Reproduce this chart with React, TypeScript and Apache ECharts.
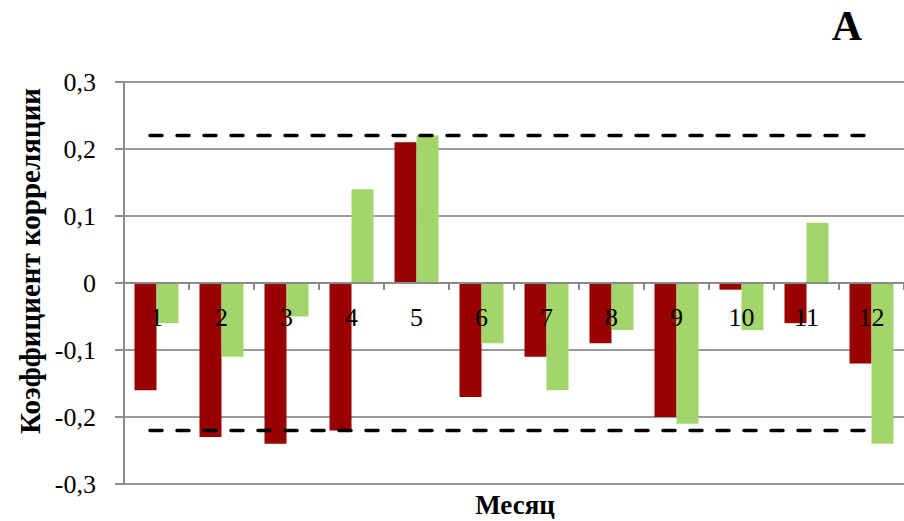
import React, { useEffect, useRef } from "react";
import * as echarts from "echarts";

// Monthly correlation coefficients for two series
const months: string[] = ["1", "2", "3", "4", "5", "6", "7", "8", "9", "10", "11", "12"];
const seriesRed: number[] = [-0.16, -0.23, -0.24, -0.22, 0.21, -0.17, -0.11, -0.09, -0.2, -0.01, -0.06, -0.12];
const seriesGreen: number[] = [-0.06, -0.11, -0.05, 0.14, 0.22, -0.09, -0.16, -0.07, -0.21, -0.07, 0.09, -0.24];
// Significance thresholds (±) and the span of months they cover
const threshold = 0.22;
const thresholdSpan: number[] = [0.4, 11.4];
const yMin = -0.3;
const yMax = 0.3;

const FONT = "Liberation Serif, Times New Roman, serif";

const GRID_TOP = 82;
const GRID_HEIGHT = 402;

export default function App() {
  const ref = useRef<HTMLDivElement>(null);

  useEffect(() => {
    if (!ref.current) return;
    const chart = echarts.init(ref.current, undefined, { renderer: "svg" });
    const fmt = (v: number) => (Math.round(v * 10) / 10).toString().replace(".", ",");
    const lineData = (y: number) => thresholdSpan.map((x) => [x, y]);
    const dashed = {
      color: "#000",
      width: 3.5,
      type: [12, 15],
      cap: "round",
    };
    // lift the month axis from the bottom edge up to the zero line
    const zeroOffset = -GRID_HEIGHT * (0 - yMin) / (yMax - yMin);
    chart.setOption({
      animation: false,
      backgroundColor: "#ffffff",
      textStyle: { fontFamily: FONT },
      grid: { left: 124, top: GRID_TOP, width: 783, height: GRID_HEIGHT, containLabel: false },
      xAxis: [
        {
          type: "category",
          data: months,
          z: 5,
          position: "bottom",
          offset: zeroOffset,
          axisLine: { onZero: false, lineStyle: { color: "#8c8c8c", width: 2 } },
          axisTick: { show: true, length: 7, lineStyle: { color: "#8c8c8c", width: 2 } },
          axisLabel: { color: "#000", fontSize: 26, fontFamily: FONT, margin: 21 },
          splitLine: { show: false },
        },
        {
          type: "value",
          min: 0,
          max: 12,
          show: false,
          position: "top",
          axisLine: { onZero: false },
        },
      ],
      yAxis: {
        type: "value",
        min: yMin,
        max: yMax,
        interval: 0.1,
        axisLine: { show: true, onZero: false, lineStyle: { color: "#8c8c8c", width: 2 } },
        axisTick: { show: true, length: 9, lineStyle: { color: "#8c8c8c", width: 2 } },
        axisLabel: { color: "#000", fontSize: 26, fontFamily: FONT, margin: 28, formatter: fmt },
        splitLine: { show: true, lineStyle: { color: "#9a9a9a", width: 2 } },
      },
      series: [
        {
          name: "red",
          type: "bar",
          data: seriesRed,
          barWidth: 22,
          barGap: "0%",
          itemStyle: { color: "#990000" },
        },
        {
          name: "green",
          type: "bar",
          data: seriesGreen,
          barWidth: 22,
          barGap: "0%",
          itemStyle: { color: "#a2d66a" },
        },
        {
          type: "line",
          xAxisIndex: 1,
          data: lineData(threshold),
          symbol: "none",
          z: 6,
          lineStyle: dashed,
        },
        {
          type: "line",
          xAxisIndex: 1,
          data: lineData(-threshold),
          symbol: "none",
          z: 6,
          lineStyle: dashed,
        },
      ],
      graphic: [
        {
          type: "text",
          x: 30,
          y: 261,
          rotation: Math.PI / 2,
          style: {
            text: "Коэффициент корреляции",
            fontFamily: FONT,
            fontSize: 29,
            fontWeight: "bold",
            fill: "#000",
            align: "center",
            verticalAlign: "middle",
          },
        },
        {
          type: "text",
          x: 515,
          y: 505,
          style: {
            text: "Месяц",
            fontFamily: FONT,
            fontSize: 27,
            fontWeight: "bold",
            fill: "#000",
            align: "center",
            verticalAlign: "middle",
          },
        },
        {
          type: "text",
          x: 847,
          y: 26,
          style: {
            text: "A",
            fontFamily: FONT,
            fontSize: 42,
            fontWeight: "bold",
            fill: "#000",
            align: "center",
            verticalAlign: "middle",
          },
        },
      ],
    });
    return () => chart.dispose();
  }, []);

  return (
    <div
      ref={ref}
      style={{ position: "fixed", left: 0, top: 0, width: 904, height: 521 }}
    />
  );
}
